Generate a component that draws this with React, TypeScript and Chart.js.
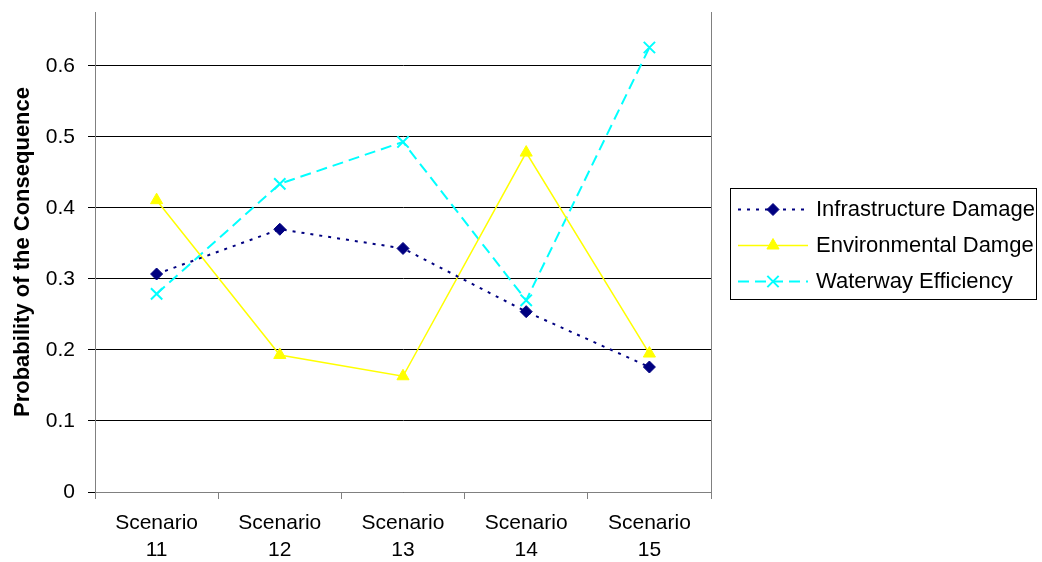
import React, { useEffect, useRef } from "react";
import { Chart, registerables } from "chart.js";

Chart.register(...registerables);

const categories: string[][] = [
  ["Scenario", "11"],
  ["Scenario", "12"],
  ["Scenario", "13"],
  ["Scenario", "14"],
  ["Scenario", "15"],
];
const infrastructureDamage = [0.307, 0.37, 0.343, 0.254, 0.176];
const environmentalDamage = [0.411, 0.193, 0.163, 0.478, 0.195];
const waterwayEfficiency = [0.279, 0.434, 0.493, 0.27, 0.626];
const yTicks = [0, 0.1, 0.2, 0.3, 0.4, 0.5, 0.6];

const FONT = "'Liberation Sans', Arial, sans-serif";

function drawMarker(ctx: CanvasRenderingContext2D, style: string, r: number, x: number, y: number) {
  ctx.beginPath();
  if (style === "rectRot") {
    ctx.moveTo(x, y - r);
    ctx.lineTo(x + r, y);
    ctx.lineTo(x, y + r);
    ctx.lineTo(x - r, y);
    ctx.closePath();
    ctx.fill();
    ctx.stroke();
  } else if (style === "triangle") {
    ctx.moveTo(x, y - r);
    ctx.lineTo(x + r * 0.87, y + r * 0.5);
    ctx.lineTo(x - r * 0.87, y + r * 0.5);
    ctx.closePath();
    ctx.fill();
    ctx.stroke();
  } else {
    const d = r * 0.707;
    ctx.moveTo(x - d, y - d);
    ctx.lineTo(x + d, y + d);
    ctx.moveTo(x + d, y - d);
    ctx.lineTo(x - d, y + d);
    ctx.stroke();
  }
}

const frameAndLegend = {
  id: "frameAndLegend",
  afterDraw(chart: any) {
    const ctx = chart.ctx;
    const area = chart.chartArea;
    ctx.save();
    ctx.strokeStyle = "#808080";
    ctx.lineWidth = 1;
    ctx.beginPath();
    ctx.moveTo(Math.round(area.right) + 0.5, area.top);
    ctx.lineTo(Math.round(area.right) + 0.5, area.bottom);
    ctx.stroke();

    const bx = 730.5, by = 188.5, bw = 306, bh = 111;
    ctx.strokeStyle = "#000";
    ctx.lineWidth = 1;
    ctx.strokeRect(bx, by, bw, bh);
    const rows = [209, 245, 281];
    chart.data.datasets.forEach((ds: any, i: number) => {
      const y = rows[i];
      ctx.save();
      ctx.strokeStyle = ds.borderColor;
      ctx.lineWidth = ds.borderWidth;
      ctx.setLineDash(ds.borderDash || []);
      ctx.beginPath();
      ctx.moveTo(738, y + 0.5);
      ctx.lineTo(808, y + 0.5);
      ctx.stroke();
      ctx.restore();
      ctx.save();
      ctx.fillStyle = ds.pointBackgroundColor;
      ctx.strokeStyle = ds.pointBorderColor;
      ctx.lineWidth = ds.pointBorderWidth;
      drawMarker(ctx, ds.pointStyle, ds.pointRadius, 773, y + 0.5);
      ctx.restore();
      ctx.fillStyle = "#000";
      ctx.font = `22px ${FONT}`;
      ctx.textBaseline = "middle";
      ctx.textAlign = "left";
      ctx.fillText(ds.label, 816, y + 1);
    });
    ctx.restore();
  },
};

export default function App() {
  const ref = useRef<HTMLCanvasElement | null>(null);
  useEffect(() => {
    if (!ref.current) return;
    const chart = new Chart(ref.current, {
      type: "line",
      data: {
        labels: categories,
        datasets: [
          {
            label: "Infrastructure Damage",
            data: infrastructureDamage,
            borderColor: "#000080",
            backgroundColor: "#000080",
            borderWidth: 2,
            borderDash: [3, 6],
            pointStyle: "rectRot",
            pointRadius: 6,
            pointBackgroundColor: "#000080",
            pointBorderColor: "#000080",
            pointBorderWidth: 1,
            tension: 0,
          },
          {
            label: "Environmental Damge",
            data: environmentalDamage,
            borderColor: "#FFFF00",
            backgroundColor: "#FFFF00",
            borderWidth: 1.5,
            pointStyle: "triangle",
            pointRadius: 7,
            pointBackgroundColor: "#FFFF00",
            pointBorderColor: "#FFFF00",
            pointBorderWidth: 1,
            tension: 0,
          },
          {
            label: "Waterway Efficiency",
            data: waterwayEfficiency,
            borderColor: "#00FFFF",
            backgroundColor: "#00FFFF",
            borderWidth: 2,
            borderDash: [11, 6],
            pointStyle: "crossRot",
            pointRadius: 8,
            pointBackgroundColor: "#00FFFF",
            pointBorderColor: "#00FFFF",
            pointBorderWidth: 2,
            tension: 0,
          },
        ] as any,
      },
      options: {
        animation: false,
        responsive: false,
        maintainAspectRatio: false,
        layout: { padding: { left: 0, right: 331, top: 12, bottom: 0 } },
        plugins: {
          legend: { display: false },
          tooltip: { enabled: false },
        },
        scales: {
          x: {
            type: "category",
            offset: true,
            grid: {
              offset: true,
              drawOnChartArea: false,
              drawTicks: true,
              tickLength: 7,
              color: "#808080",
            },
            border: { display: true, color: "#808080" },
            ticks: {
              color: "#000",
              font: { family: FONT, size: 21, lineHeight: 1.28 },
              padding: 11,
              maxRotation: 0,
              autoSkip: false,
            },
            afterFit: (scale: any) => {
              scale.height = 70;
              scale.paddingLeft = 0;
              scale.paddingRight = 0;
            },
          },
          y: {
            type: "linear",
            min: 0,
            max: 0.676,
            afterBuildTicks: (scale: any) => {
              scale.ticks = yTicks.map((v) => ({ value: v }));
            },
            grid: {
              color: "#000",
              lineWidth: 1,
              drawTicks: true,
              tickLength: 7,
            },
            border: { display: true, color: "#808080" },
            ticks: {
              color: "#000",
              font: { family: FONT, size: 21 },
              padding: 13,
              callback: (v: any) => String(Math.round(Number(v) * 10) / 10),
            },
            title: {
              display: true,
              text: "Probability of the Consequence",
              color: "#000",
              font: { family: FONT, size: 22, weight: "bold" },
              padding: { top: 10, bottom: 0 },
            },
            afterFit: (scale: any) => {
              scale.width = 95;
              scale.paddingTop = 0;
              scale.paddingBottom = 0;
            },
          },
        },
      },
      plugins: [frameAndLegend],
    });
    return () => chart.destroy();
  }, []);
  return (
    <div style={{ position: "absolute", left: 0, top: 0, width: 1042, height: 562, background: "#fff" }}>
      <canvas ref={ref} width={1042} height={562} style={{ width: 1042, height: 562 }} />
    </div>
  );
}
